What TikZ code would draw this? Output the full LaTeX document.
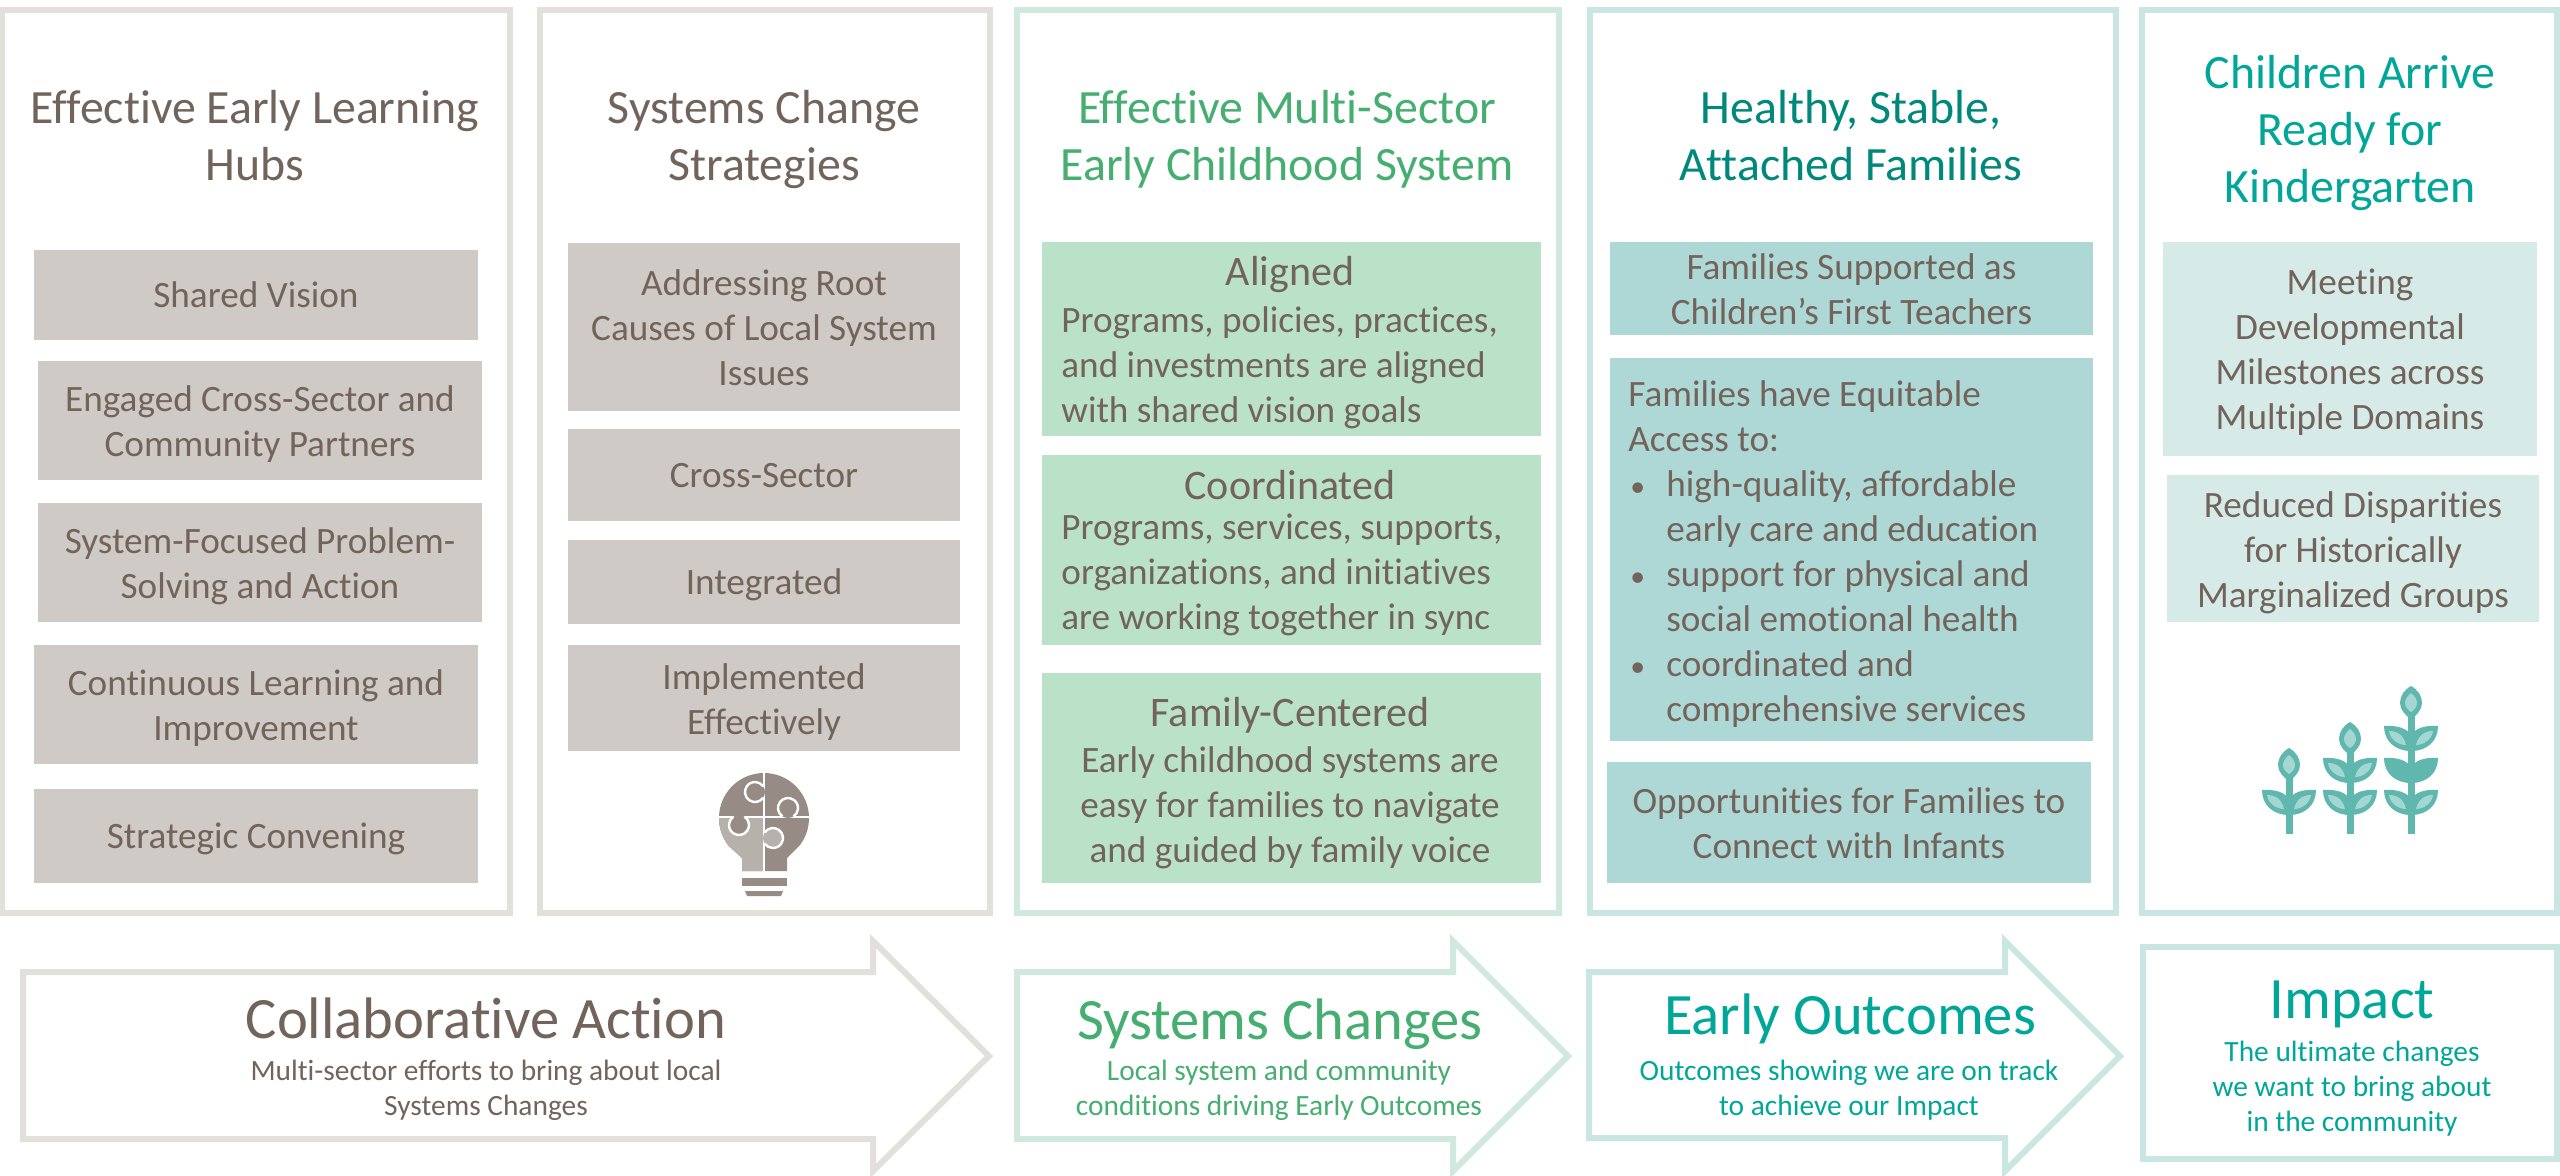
\documentclass[tikz,border=0pt]{standalone}
\usepackage{fontspec}
\setmainfont{Carlito}[Ligatures=NoCommon]
\definecolor{brn}{HTML}{72645A}
\definecolor{brnline}{HTML}{E3DFDA}
\definecolor{brnbox}{HTML}{CFCAC6}
\definecolor{grn}{HTML}{45AE70}
\definecolor{grnline}{HTML}{CFE9DC}
\definecolor{grnbox}{HTML}{B9E2C8}
\definecolor{tl}{HTML}{00897B}
\definecolor{tlline}{HTML}{C9E6E3}
\definecolor{tlbox}{HTML}{AED8D5}
\definecolor{aq}{HTML}{00A799}
\definecolor{aqbox}{HTML}{D6EBE8}
\definecolor{bulbd}{HTML}{978C85}
\definecolor{bulbl}{HTML}{B6B1AB}
\definecolor{plantd}{HTML}{5FB7AE}
\definecolor{plantl}{HTML}{A5D7D2}
\tikzset{
  x=0.5pt,y=-0.5pt,
  struts/.style={execute at begin node=\strut,execute at end node=\strut},
  dropped/.style={execute at begin node={\rule{0pt}{\dimexpr.7\baselineskip+#1pt\relax}},execute at end node=\strut},
  panel/.style={draw,line width=3pt,fill=white,inner sep=0pt},
  titletext/.style={align=center,font=\fontsize{23.9}{28.5}\selectfont,inner sep=0pt,struts},
  boxbase/.style={align=center,font=\fontsize{18.6}{22.5}\selectfont,inner sep=0pt,text=brn},
  boxone/.style={boxbase,dropped=3.6},
  bodytext/.style={boxbase,struts},
  lefttext/.style={align=left,font=\fontsize{18.6}{22.5}\selectfont,inner sep=0pt,struts,text=brn},
  sechead/.style={align=center,font=\fontsize{21}{22.5}\selectfont,inner sep=0pt,struts,text=brn},
  headtext/.style={align=center,font=\fontsize{29.3}{22}\selectfont,inner sep=0pt,struts},
  subtext/.style={align=center,font=\fontsize{14.7}{17.5}\selectfont,inner sep=0pt,struts},
  flow/.style={draw,line width=3pt,fill=white,miter limit=20,line join=miter},
  ring/.style={draw=white,line width=1.2pt},
}
% \bx{name}{x1}{y1}{x2}{y2}{style}{text}
\newcommand{\bx}[7]{%
  \pgfmathsetmacro{\bw}{(#4-#2)*0.5}%
  \pgfmathsetmacro{\bh}{(#5-#3)*0.5}%
  \node[#6,minimum width=\bw pt,minimum height=\bh pt,inner sep=0pt,align=center] (#1) at ({(#2+#4)/2},{(#3+#5)/2}) {#7};}
% multi-line box: filled rectangle plus a text node set slightly below its centre
\newcommand{\bxm}[7]{%
  \bx{#1}{#2}{#3}{#4}{#5}{#6}{}%
  \node[bodytext] (#1t) at ({(#2+#4)/2},{(#3+#5)/2+7.4}) {#7};}
\newcommand{\bitem}{\makebox[19pt][l]{\hspace{1pt}\scalebox{0.8}{•}}}
\newcommand{\bcont}{\hspace{19pt}}
\newcommand{\bulbpath}{(764,773) arc[start angle=-90,end angle=38,radius=45] -- (787,858) -- (787,871) -- (742,871) -- (742,858) -- (728.5,845.7) arc[start angle=142,end angle=270,radius=45] -- cycle}
\newcommand{\leafpair}[2]{% stem x, top y
  \foreach \sgn in {-1,1}{%
    \fill[plantd] (#1,#2+25) .. controls (#1+\sgn*16,#2+25) and (#1+\sgn*27,#2+15) .. (#1+\sgn*27,#2)
      .. controls (#1+\sgn*15,#2-1) and (#1+\sgn*3,#2+2) .. (#1,#2+10) -- cycle;
    \fill[plantl] (#1+\sgn*5,#2+19) .. controls (#1+\sgn*13,#2+19) and (#1+\sgn*21,#2+13) .. (#1+\sgn*22,#2+5)
      .. controls (#1+\sgn*13,#2+5) and (#1+\sgn*7,#2+10) .. cycle;
  }}
\newcommand{\bud}[2]{% stem x, centre y
  \fill[plantd] (#1,#2-17) .. controls (#1+7,#2-13) and (#1+11,#2-7) .. (#1+11,#2)
     .. controls (#1+11,#2+7) and (#1+5,#2+13) .. (#1,#2+16)
     .. controls (#1-5,#2+13) and (#1-11,#2+7) .. (#1-11,#2)
     .. controls (#1-11,#2-7) and (#1-7,#2-13) .. cycle;
  \fill[plantl] (#1,#2-10) .. controls (#1+4,#2-7) and (#1+6,#2-3) .. (#1+6,#2)
     .. controls (#1+6,#2+4) and (#1+3,#2+7) .. (#1,#2+9)
     .. controls (#1-3,#2+7) and (#1-6,#2+4) .. (#1-6,#2)
     .. controls (#1-6,#2-3) and (#1-4,#2-7) .. cycle;}
\begin{document}
\begin{tikzpicture}
\useasboundingbox (0,0) rectangle (2560,1175);
\fill[white] (0,0) rectangle (2560,1175);
% panels
\bx{p1}{2}{10}{510}{913}{panel,draw=brnline}{}
\bx{p2}{540}{10}{990}{913}{panel,draw=brnline}{}
\bx{p3}{1017}{10}{1559}{913}{panel,draw=grnline}{}
\bx{p4}{1590}{10}{2116}{913}{panel,draw=tlline}{}
\bx{p5}{2142}{10}{2557}{913}{panel,draw=tlline}{}
% titles
\node[titletext,text=brn] (t1) at (255,144) {Effective Early Learning\\Hubs};
\node[titletext,text=brn] (t2) at (764,144) {Systems Change\\Strategies};
\node[titletext,text=grn] (t3) at (1287,144) {Effective Multi-Sector\\Early Childhood System};
\node[titletext,text=tl] (t4) at (1851,144) {Healthy, Stable,\\Attached Families};
\node[titletext,text=aq] (t5) at (2350,137) {Children Arrive\\Ready for\\Kindergarten};
% column 1
\bx{a1}{34}{250}{478}{340}{fill=brnbox,boxone}{Shared Vision}
\bxm{a2}{38}{361}{482}{480}{fill=brnbox}{Engaged Cross-Sector and\\Community Partners}
\bxm{a3}{38}{503}{482}{622}{fill=brnbox}{System-Focused Problem-\\Solving and Action}
\bxm{a4}{34}{645}{478}{764}{fill=brnbox}{Continuous Learning and\\Improvement}
\bx{a5}{34}{789}{478}{883}{fill=brnbox,boxone}{Strategic Convening}
% column 2
\bxm{b1}{568}{243}{960}{411}{fill=brnbox}{Addressing Root\\Causes of Local System\\Issues}
\bx{b2}{568}{429}{960}{521}{fill=brnbox,boxone}{Cross-Sector}
\bx{b3}{568}{540}{960}{624}{fill=brnbox,boxone}{Integrated}
\bxm{b4}{568}{645}{960}{751}{fill=brnbox}{Implemented\\Effectively}
% column 3
\bx{c1}{1042}{242}{1541}{436}{fill=grnbox}{}
\node[sechead] (c1h) at (1290,276) {Aligned};
\node[lefttext,anchor=west] (c1b) at (1061,371) {Programs, policies, practices,\\and investments are aligned\\with shared vision goals};
\bx{c2}{1042}{455}{1541}{645}{fill=grnbox}{}
\node[sechead] (c2h) at (1290,490) {Coordinated};
\node[lefttext,anchor=west] (c2b) at (1061,578) {Programs, services, supports,\\organizations, and initiatives\\are working together in sync};
\bx{c3}{1042}{673}{1541}{883}{fill=grnbox}{}
\node[sechead] (c3h) at (1290,717) {Family-Centered};
\node[bodytext] (c3b) at (1290,811) {Early childhood systems are\\easy for families to navigate\\and guided by family voice};
% column 4
\bxm{d1}{1610}{242}{2093}{335}{fill=tlbox}{Families Supported as\\Children’s First Teachers}
\bx{d2}{1610}{358}{2093}{741}{fill=tlbox}{}
\node[lefttext,anchor=west] (d2t) at (1628,558) {Families have Equitable\\Access to:\\\bitem high-quality, affordable\\\bcont early care and education\\\bitem support for physical and\\\bcont social emotional health\\\bitem coordinated and\\\bcont comprehensive services};
\bxm{d3}{1607}{762}{2091}{883}{fill=tlbox}{Opportunities for Families to\\Connect with Infants}
% column 5
\bxm{e1}{2163}{242}{2537}{456}{fill=aqbox}{Meeting\\Developmental\\Milestones across\\Multiple Domains}
\bxm{e2}{2167}{475}{2539}{622}{fill=aqbox}{Reduced Disparities\\for Historically\\Marginalized Groups}
% bulb
\fill[bulbd] \bulbpath;
\begin{scope}
  \clip (715,818) rectangle (764,875);
  \fill[bulbl] \bulbpath;
\end{scope}
\draw[white,line width=1.1pt] (764,770) -- (764,873) (716,817) -- (812,817);
\fill[bulbd] (755,792) circle (10);
\draw[ring] (755,792) ++(35:10) arc[start angle=35,end angle=325,radius=10];
\fill[bulbd] (788,808) circle (10);
\draw[ring] (788,808) ++(125:10) arc[start angle=125,end angle=415,radius=10];
\fill[bulbd] (739,825) circle (10);
\draw[ring] (739,825) ++(-55:10) arc[start angle=-55,end angle=235,radius=10];
\fill[bulbl] (773,838) circle (10);
\draw[ring] (773,838) ++(215:10) arc[start angle=215,end angle=505,radius=10];
\fill[bulbd] (742,878) rectangle (787,886);
\fill[bulbd] (745,891) -- (783,891) -- (781,896) -- (747,896) -- cycle;
% plants
\fill[plantd] (2285.5,765) rectangle (2292.5,834);
\fill[plantd] (2346.5,739) rectangle (2353.5,834);
\fill[plantd] (2407.5,703) rectangle (2414.5,834);
\leafpair{2289}{790}\bud{2289}{765}
\leafpair{2350}{758}\leafpair{2350}{790}\bud{2350}{739}
\leafpair{2411}{726}\leafpair{2411}{790}\bud{2411}{703}
\foreach \sgn in {-1,1}{\fill[plantd] (2411,783) .. controls (2411+\sgn*16,783) and (2411+\sgn*27,773) .. (2411+\sgn*27,758) .. controls (2411+\sgn*15,757) and (2411+\sgn*3,760) .. (2411,768) -- cycle;}
% flows
\draw[flow,draw=brnline] (23,972) -- (873,972) -- (873,941) -- (989,1056) -- (873,1171) -- (873,1139) -- (23,1139) -- cycle;
\draw[flow,draw=grnline] (1017,972) -- (1453,972) -- (1453,941) -- (1568,1056) -- (1453,1171) -- (1453,1139) -- (1017,1139) -- cycle;
\draw[flow,draw=tlline] (1589,972) -- (2005,972) -- (2005,941) -- (2120,1056) -- (2005,1171) -- (2005,1138) -- (1589,1138) -- cycle;
\bx{f4}{2143}{947}{2557}{1159}{panel,draw=tlline}{}
\node[headtext,text=brn] (g1) at (486,1025) {Collaborative Action};
\node[subtext,text=brn] (h1) at (486,1093) {Multi-sector efforts to bring about local\\Systems Changes};
\node[headtext,text=grn] (g2) at (1280,1026) {Systems Changes};
\node[subtext,text=grn] (h2) at (1279,1093) {Local system and community\\conditions driving Early Outcomes};
\node[headtext,text=aq] (g3) at (1850,1021) {Early Outcomes};
\node[subtext,text=aq] (h3) at (1849,1093) {Outcomes showing we are on track\\to achieve our Impact};
\node[headtext,text=aq] (g4) at (2352,1006) {Impact};
\node[subtext,text=aq] (h4) at (2352,1092) {The ultimate changes\\we want to bring about\\in the community};
\end{tikzpicture}
\end{document}
